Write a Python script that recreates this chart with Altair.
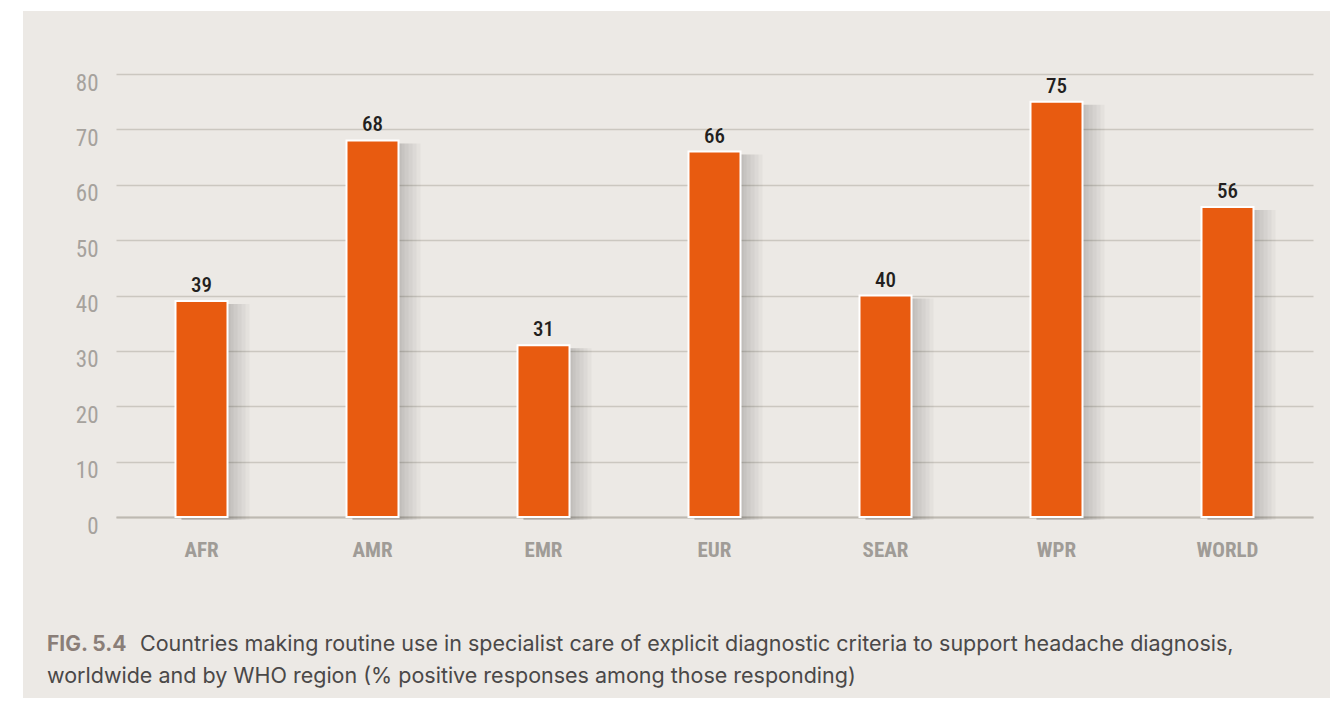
import altair as alt
import pandas as pd

regions = ["AFR", "AMR", "EMR", "EUR", "SEAR", "WPR", "WORLD"]
values = [39, 68, 31, 66, 40, 75, 56]
y_ticks = [0, 10, 20, 30, 40, 50, 60, 70, 80]
caption_fig = "FIG. 5.4"
caption_line1 = ("Countries making routine use in specialist care of explicit diagnostic "
                 "criteria to support headache diagnosis,")
caption_line2 = "worldwide and by WHO region (% positive responses among those responding)"

COND = "Roboto Condensed, Roboto, sans-serif"
SANS = "Inter, Liberation Sans, Arial, sans-serif"

df = pd.DataFrame({"region": regions, "value": values})
one = pd.DataFrame({"k": [0]})

W, H = 1197, 443

x = alt.X(
    "region:N", sort=regions,
    scale=alt.Scale(paddingInner=0.684, paddingOuter=0.342),
    axis=alt.Axis(title=None, labelAngle=0, ticks=False, labelPadding=22,
                  labelFont=COND, labelFontSize=21, labelFontWeight="bold",
                  labelColor="#a09c97", domainColor="#bdb9b2", domainWidth=2,
                  grid=False),
)
y = alt.Y(
    "value:Q", scale=alt.Scale(domain=[0, 80], nice=False),
    axis=alt.Axis(title=None, values=y_ticks, ticks=False, domain=False,
                  labelPadding=18, labelBaseline="top", labelOffset=-2,
                  labelFont=COND, labelFontSize=23, labelColor="#a6a29d",
                  gridColor="#cbc7c0", gridWidth=1.5),
)

base = alt.Chart(df).encode(x=x, y=y)

shadows = [
    base.mark_bar(width=47 + e, xOffset=(e + 7) / 2, yOffset=3,
                  color="#000000", opacity=0.03)
    for e in (21, 17, 13, 9, 5, 2)
]

bars = base.mark_bar(width=52, color="#e85b10", stroke="white", strokeWidth=2)
labels = base.mark_text(dy=-5, baseline="bottom", font=COND, fontSize=21,
                        fontWeight=500, color="#231f20").encode(text="value:Q")

strip_left = alt.Chart(one).mark_rect(color="white").encode(
    x=alt.value(-108), x2=alt.value(-93), y=alt.value(-66), y2=alt.value(640))
strip_top = alt.Chart(one).mark_rect(color="white").encode(
    x=alt.value(-108), x2=alt.value(1230), y=alt.value(-66), y2=alt.value(-63))

cap_fig = alt.Chart(pd.DataFrame({"t": [caption_fig]})).mark_text(
    align="left", baseline="middle", font=SANS, fontSize=21, fontWeight="bold",
    color="#8a7e78").encode(x=alt.value(-69), y=alt.value(571), text="t:N")
cap_l1 = alt.Chart(pd.DataFrame({"t": [caption_line1]})).mark_text(
    align="left", baseline="middle", font=SANS, fontSize=21.5,
    color="#4a4848").encode(x=alt.value(24), y=alt.value(571), text="t:N")
cap_l2 = alt.Chart(pd.DataFrame({"t": [caption_line2]})).mark_text(
    align="left", baseline="middle", font=SANS, fontSize=21.5,
    color="#4a4848").encode(x=alt.value(-69), y=alt.value(603), text="t:N")

chart = alt.layer(
    *shadows, bars, labels, strip_left, strip_top, cap_fig, cap_l1, cap_l2
).properties(
    width=W, height=H,
    padding={"left": 108, "top": 66, "right": 17, "bottom": 181},
    autosize=alt.AutoSizeParams(type="none"),
    background="#ece9e5",
).configure_view(stroke=None)

chart.save("out.html", embed_options={"renderer": "svg", "actions": False})
